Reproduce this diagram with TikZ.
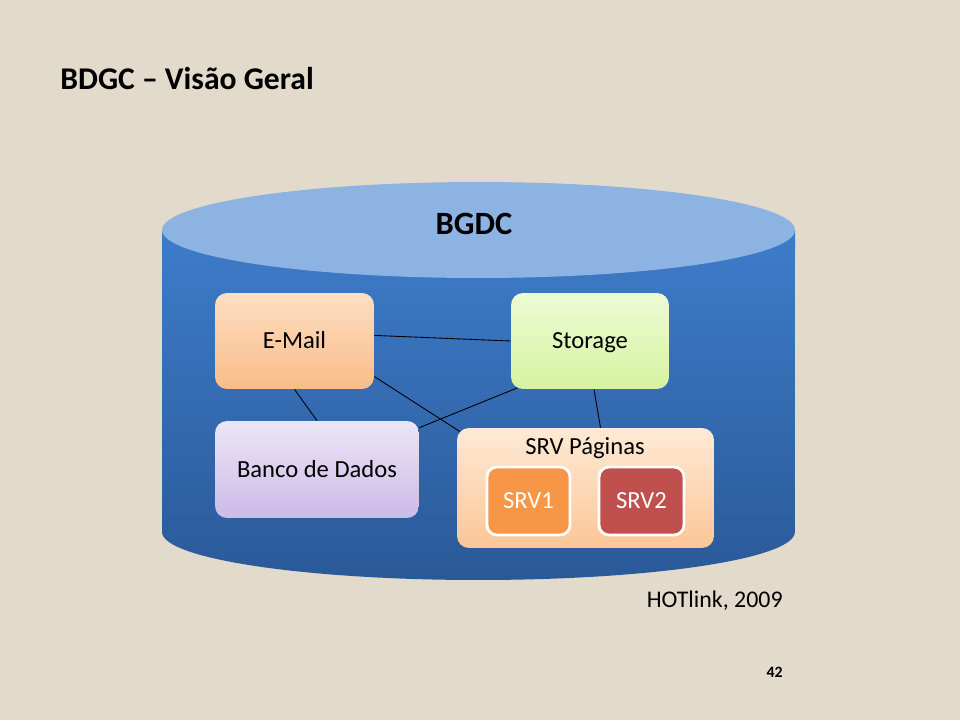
\documentclass[tikz,border=0pt]{standalone}
\usepackage{fontspec}
\setmainfont{Carlito}
\usepackage{tikz}
\usepackage{xcolor}

\definecolor{paper}{RGB}{226,218,203}
\definecolor{cyltop}{RGB}{141,179,226}
\definecolor{cylhi}{RGB}{62,124,202}
\definecolor{cyllo}{RGB}{42,89,152}
\definecolor{srvone}{RGB}{247,150,70}
\definecolor{srvtwo}{RGB}{192,80,77}

\pgfdeclarelayer{back}
\pgfdeclarelayer{links}
\pgfsetlayers{back,links,main}

\begin{document}
\begin{tikzpicture}[x=0.02cm, y=-0.02cm,
    box/.style={rounded corners=0.24cm, inner sep=0pt, text height=8.8pt, text depth=0pt,
        font=\fontsize{14}{16}\selectfont},
    srvbox/.style={rounded corners=0.2cm, draw=white, line width=1.6pt, inner sep=0pt,
        minimum width=1.66cm, minimum height=1.36cm, text=white, text height=8.8pt, text depth=0pt,
        font=\fontsize{14}{16}\selectfont},
    link/.style={black, line width=0.5pt}]
    \useasboundingbox (0,0) rectangle (960,720);
    \begin{pgfonlayer}{back}
    \fill[paper] (0,0) rectangle (960,720);
    % cylinder
    \shade[top color=cylhi, bottom color=cyllo] (162,230) -- (162,532)
        arc[start angle=180, end angle=360, x radius=6.33cm, y radius=0.96cm]
        -- (795,230) -- cycle;
    \fill[cyltop] (478.5,230) ellipse [x radius=6.33cm, y radius=0.96cm];
    \end{pgfonlayer}
    \node[anchor=base west, inner sep=0pt, font=\bfseries\fontsize{18}{22}\selectfont] (title) at (60,89) {BDGC -- Visão Geral};
    \node[inner sep=0pt, text height=12pt, text depth=0pt, font=\bfseries\fontsize{18.5}{22}\selectfont] (bgdc) at (474,224) {BGDC};
    \node[box, top color={rgb,255:red,253;green,222;blue,195}, bottom color={rgb,255:red,250;green,188;blue,136},
        minimum width=3.18cm, minimum height=1.92cm] (email) at (294.5,341) {E-Mail};
    \node[box, top color={rgb,255:red,238;green,250;blue,212}, bottom color={rgb,255:red,212;green,244;blue,160},
        minimum width=3.16cm, minimum height=1.92cm] (storage) at (590,341) {Storage};
    \node[box, top color={rgb,255:red,236;green,230;blue,246}, bottom color={rgb,255:red,204;green,186;blue,232},
        minimum width=4.08cm, minimum height=1.94cm] (banco) at (317,469.5) {Banco de Dados};
    \node[box, top color={rgb,255:red,255;green,234;blue,214}, bottom color={rgb,255:red,251;green,198;blue,150},
        minimum width=5.14cm, minimum height=2.4cm] (pag) at (585.5,488) {};
    \node[inner sep=0pt, text height=8.8pt, text depth=0pt, font=\fontsize{14}{16}\selectfont] (pagtxt) at (585,447) {SRV Páginas};
    \node[srvbox, fill=srvone] (srv1) at (528.5,501) {SRV1};
    \node[srvbox, fill=srvtwo, minimum width=1.7cm] (srv2) at (641.5,501) {SRV2};
    \begin{pgfonlayer}{links}
    \draw[link] (email.4) -- (storage.west);
    \draw[link] (email.south) -- (banco.north);
    \draw[link] (email.336) -- ([shift={(8,7)}]pag.north west);
    \draw[link] ([shift={(8,-2)}]storage.south west) -- ([shift={(0,7)}]banco.north east);
    \draw[link] ([shift={(4,0)}]storage.south) -- ([shift={(15,0)}]pag.north);
    \end{pgfonlayer}
    \node[anchor=base east, inner sep=0pt, font=\fontsize{13.6}{16}\selectfont] (ref) at (783,607) {HOTlink, 2009};
    \node[anchor=base east, inner sep=0pt, font=\bfseries\fontsize{9}{11}\selectfont] (page) at (783,677) {42};
\end{tikzpicture}
\end{document}
